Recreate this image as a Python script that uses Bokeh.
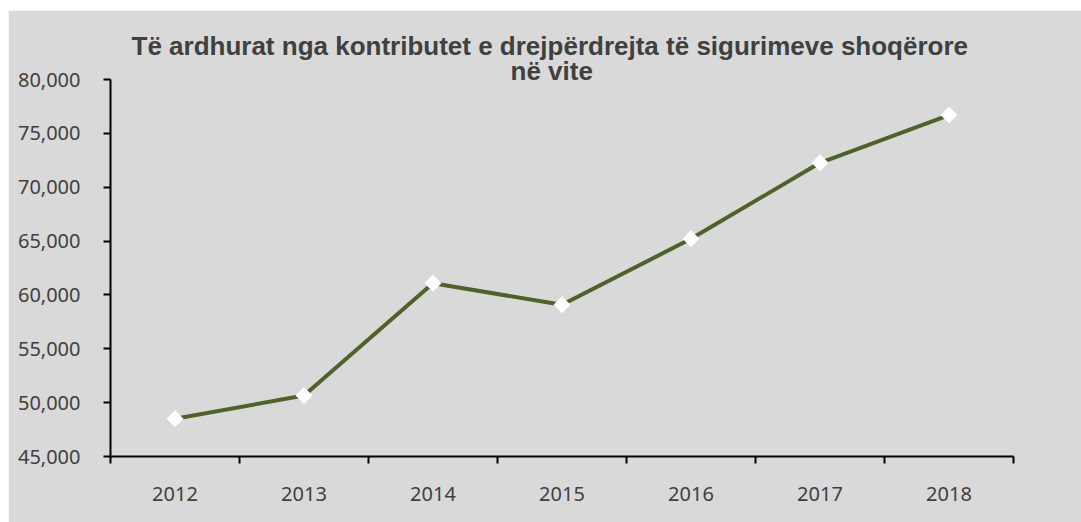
import numpy as np
from bokeh.plotting import figure
from bokeh.models import FixedTicker, NumeralTickFormatter, Range1d, Title
from bokeh.embed import file_html
from bokeh.resources import INLINE

years = [2012, 2013, 2014, 2015, 2016, 2017, 2018]
values = [48500, 50660, 61090, 59080, 65210, 72270, 76700]
y_ticks = [45000, 50000, 55000, 60000, 65000, 70000, 75000, 80000]
title_lines = ["Të ardhurat nga kontributet e drejpërdrejta të sigurimeve shoqërore",
               "në vite"]

BG = "#D9D9D9"
TXT = "#404040"
LINE = "#4F6228"

p = figure(width=1073, height=512, output_backend="svg", toolbar_location=None,
           x_range=Range1d(years[0] - 0.5, years[-1] + 0.5),
           y_range=Range1d(y_ticks[0], y_ticks[-1]),
           min_border_left=102, min_border_right=68, min_border_top=69, min_border_bottom=66,
           background_fill_color=BG, border_fill_color=BG,
           outline_line_color=BG, outline_line_width=2,
           margin=(10, 0, 0, 8))

def style_title(t, offset, standoff):
    t.align = "left"
    t.offset = offset
    t.standoff = standoff
    t.text_font = "Liberation Sans"
    t.text_font_size = "26px"
    t.text_font_style = "bold"
    t.text_color = TXT

# first line on top, second line nearest the plot
p.title.text = title_lines[0]
style_title(p.title, 21, -1)
t2 = Title(text=title_lines[1])
style_title(t2, 400, -13)
p.add_layout(t2, "above")

p.xgrid.grid_line_color = None
p.ygrid.grid_line_color = None

p.line(years, values, line_color=LINE, line_width=4)
p.scatter(years, values, marker="square", angle=np.pi / 4, size=12,
          fill_color="white", line_color=None)

boundaries = [y - 0.5 for y in years] + [years[-1] + 0.5]
p.xaxis.ticker = FixedTicker(ticks=years, minor_ticks=boundaries)
p.xaxis.major_tick_out = 0
p.xaxis.major_tick_in = 0
p.xaxis.minor_tick_out = 7
p.xaxis.minor_tick_in = 0
p.xaxis.minor_tick_line_width = 2
p.xaxis.minor_tick_line_color = "black"
p.xaxis.major_label_overrides = {y: str(y) for y in years}
p.xaxis.major_label_standoff = 23

p.yaxis.ticker = FixedTicker(ticks=y_ticks)
p.yaxis.formatter = NumeralTickFormatter(format="0,0")
p.yaxis.major_tick_out = 7
p.yaxis.major_tick_in = 0
p.yaxis.minor_tick_line_color = None
p.yaxis.major_label_standoff = 23

for ax in (p.xaxis, p.yaxis):
    ax.axis_line_width = 2
    ax.axis_line_color = "black"
    ax.major_tick_line_width = 2
    ax.major_tick_line_color = "black"
    ax.major_label_text_font = "Noto Sans"
    ax.major_label_text_font_size = "20px"
    ax.major_label_text_color = TXT

open("out.html", "w").write(file_html(p, INLINE))
